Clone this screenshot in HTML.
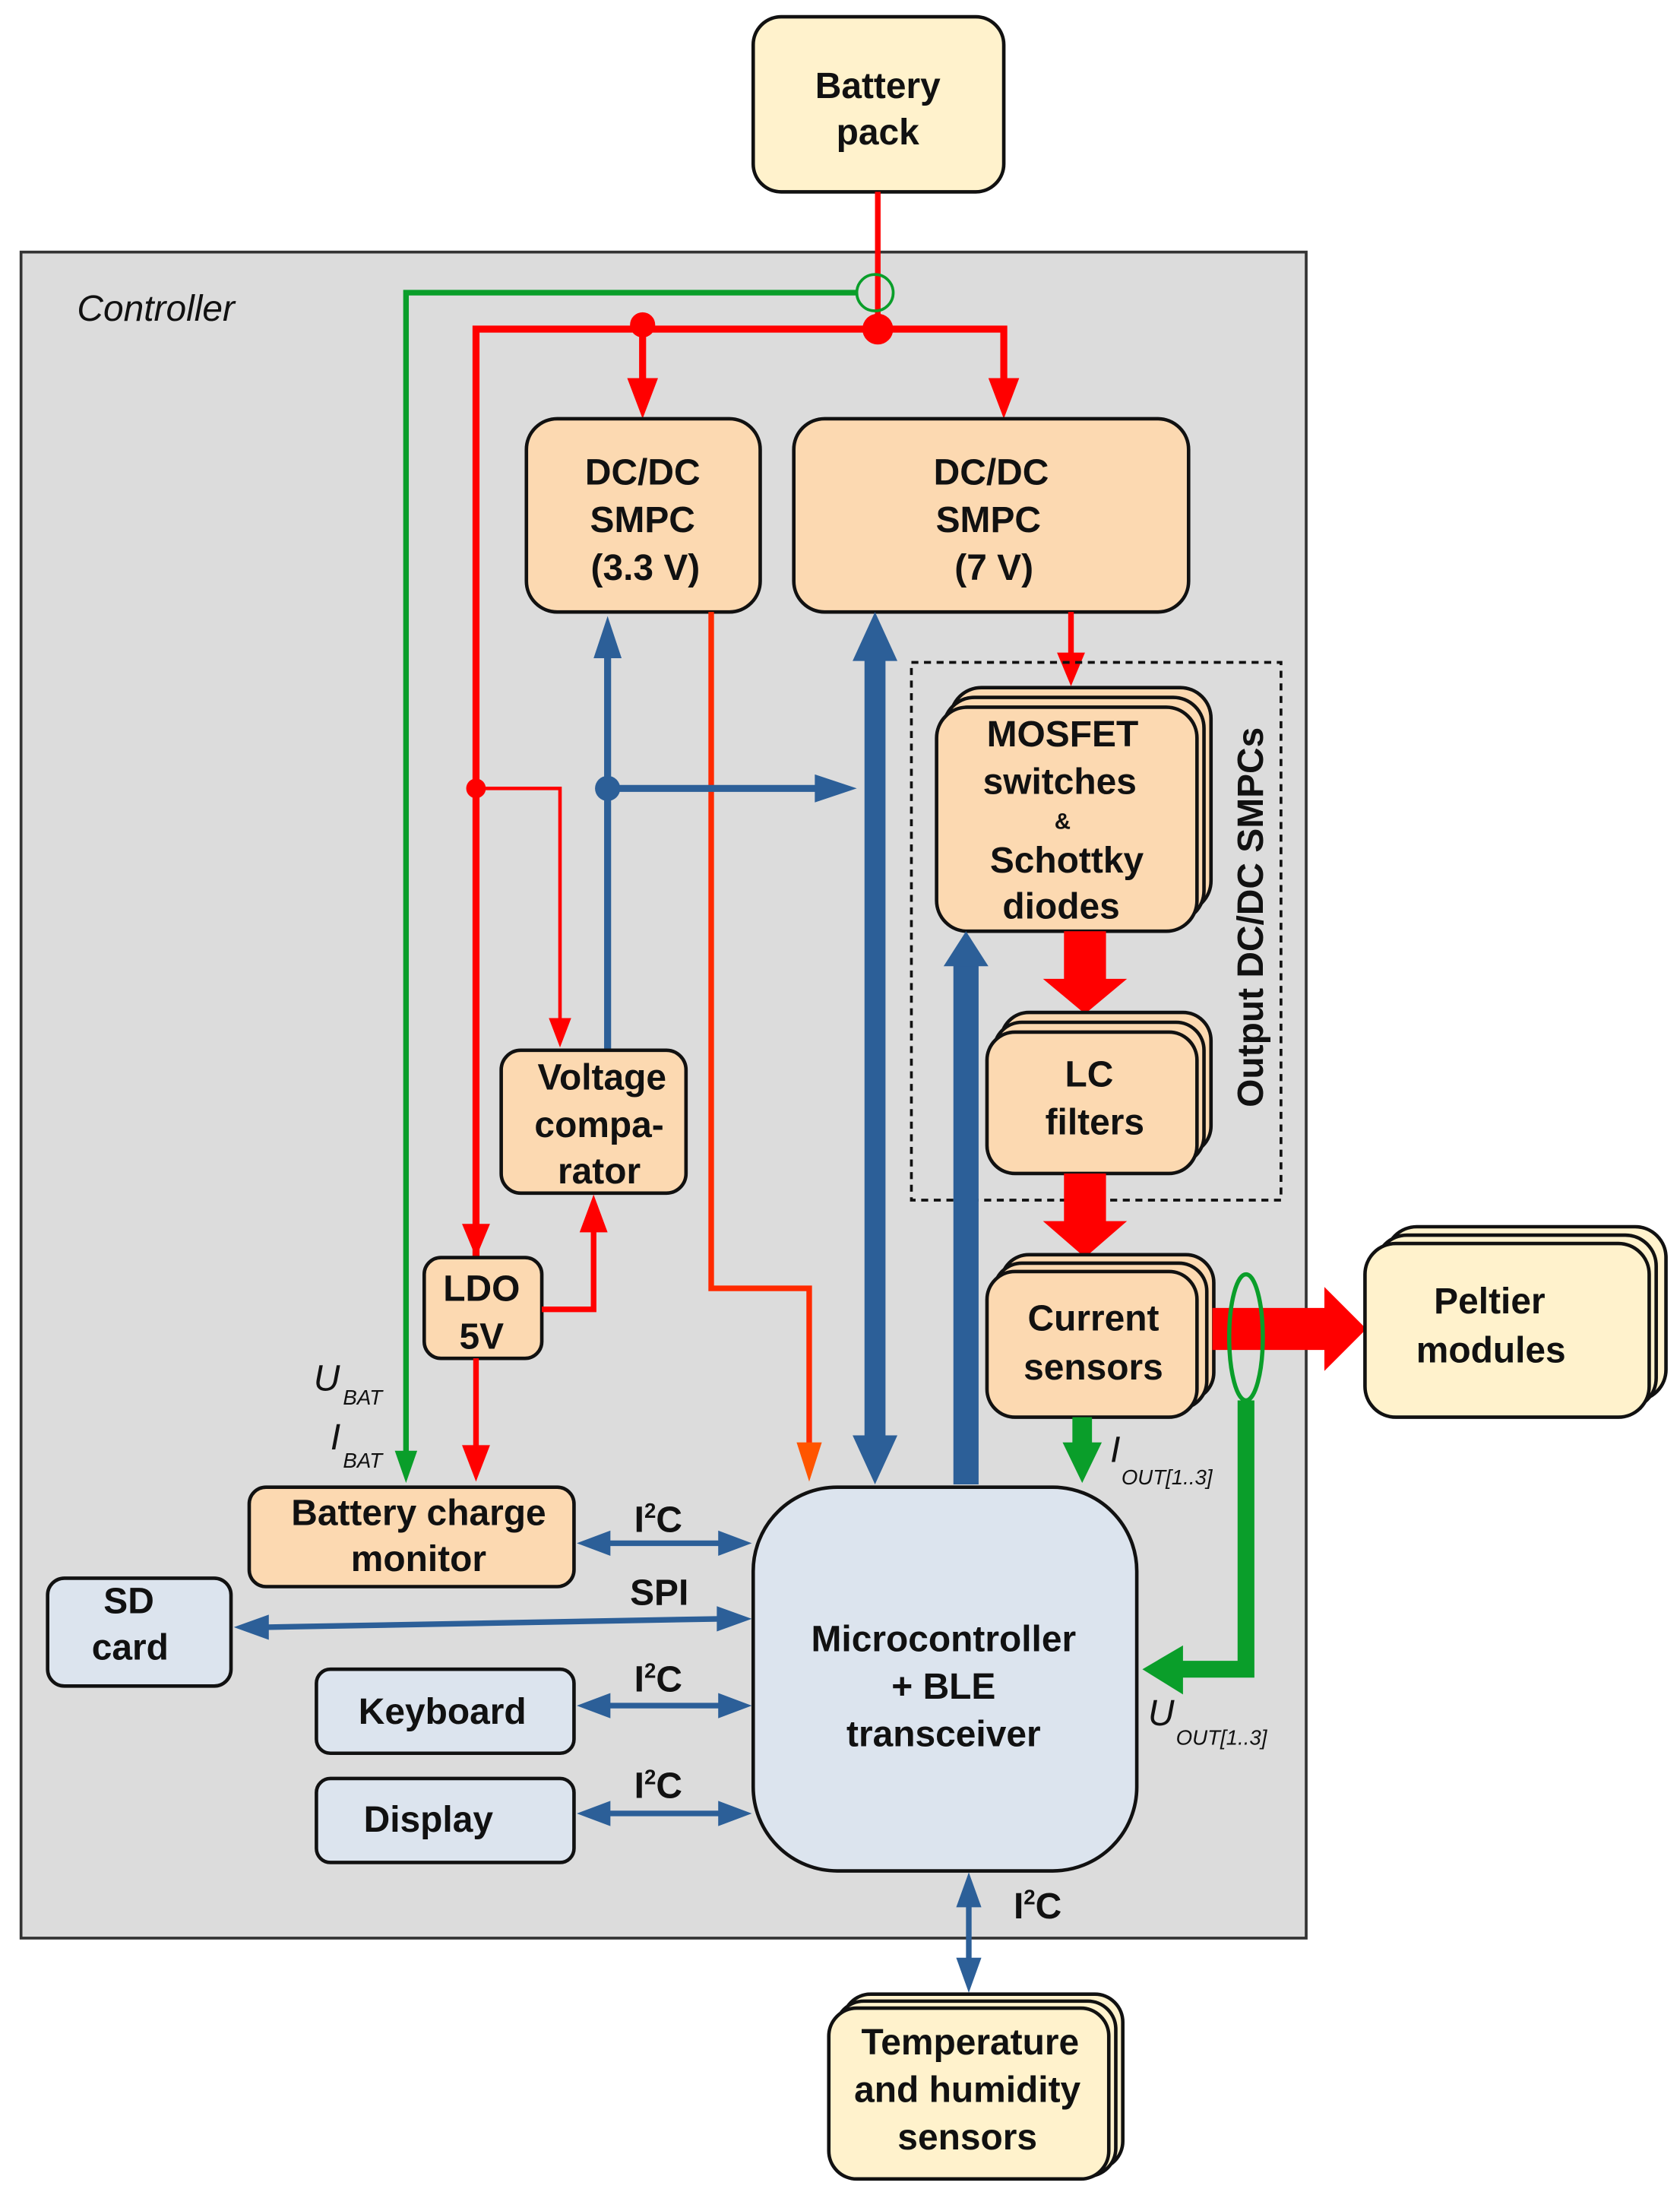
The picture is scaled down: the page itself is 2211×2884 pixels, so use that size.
<!DOCTYPE html>
<html><head><meta charset="utf-8"><style>html,body{margin:0;padding:0;background:#fff}svg{display:block}text{font-family:"Liberation Sans",sans-serif;font-weight:bold;fill:#111}text.n{font-weight:normal}</style></head>
<body>
<svg width="2211" height="2884" viewBox="0 0 1200 1565.3" xmlns="http://www.w3.org/2000/svg">
<!-- battery -->
<rect x="538" y="12" width="179" height="125" rx="20" fill="#fff2cc" stroke="#111" stroke-width="2.5"/>
<text x="627" y="70" font-size="26" text-anchor="middle">Battery</text>
<text x="627" y="103" font-size="26" text-anchor="middle">pack</text>
<!-- controller -->
<rect x="15" y="180" width="918" height="1204" fill="#dcdcdc" stroke="#333" stroke-width="2"/>
<text class="n" x="55" y="229" font-size="26" font-style="italic">Controller</text>
<!-- red power lines -->
<line x1="627" y1="137" x2="627" y2="235" stroke="#f00" stroke-width="4"/>
<polyline points="340,900 340,235 717,235 717,275" fill="none" stroke="#f00" stroke-width="5"/>
<line x1="459" y1="232" x2="459" y2="275" stroke="#f00" stroke-width="5"/>
<path d="M448,270L470,270L459,299z M706,270L728,270L717,299z" fill="#f00"/>
<circle cx="627" cy="235" r="11" fill="#f00"/>
<circle cx="459" cy="232" r="9" fill="#f00"/>
<!-- green -->
<polyline points="613,209 290,209 290,1040" fill="none" stroke="#0a9e2a" stroke-width="4"/>
<path d="M282,1036L298,1036L290,1059z" fill="#0a9e2a"/>
<circle cx="625" cy="209" r="13" fill="none" stroke="#0a9e2a" stroke-width="2"/>
<!-- left red to LDO -->
<path d="M330,874L350,874L340,898z" fill="#f00"/>
<circle cx="340" cy="563" r="7" fill="#f00"/>
<polyline points="340,563 400,563 400,730" fill="none" stroke="#f00" stroke-width="2.5"/>
<path d="M392,727L408,727L400,748z" fill="#f00"/>
<!-- DC/DC boxes -->
<rect x="376" y="299" width="167" height="138" rx="22" fill="#fcd9b1" stroke="#111" stroke-width="2.5"/>
<text x="459" y="346" font-size="26" text-anchor="middle">DC/DC</text>
<text x="459" y="380" font-size="26" text-anchor="middle">SMPC</text>
<text x="461" y="414" font-size="26" text-anchor="middle">(3.3 V)</text>
<rect x="567" y="299" width="282" height="138" rx="22" fill="#fcd9b1" stroke="#111" stroke-width="2.5"/>
<text x="708" y="346" font-size="26" text-anchor="middle">DC/DC</text>
<text x="706" y="380" font-size="26" text-anchor="middle">SMPC</text>
<text x="710" y="414" font-size="26" text-anchor="middle">(7 V)</text>
<!-- red from 3.3 to MCU -->
<polyline points="508,437 508,920 578,920 578,1035" fill="none" stroke="#ff2a00" stroke-width="4"/>
<path d="M569,1030L587,1030L578,1058z" fill="#ff5500"/>
<!-- blue thick bidirectional -->
<line x1="625" y1="470" x2="625" y2="1030" stroke="#2c5f98" stroke-width="15"/>
<path d="M609,472L641,472L625,437z M609,1025L641,1025L625,1060z" fill="#2c5f98"/>
<!-- blue thin -->
<line x1="434" y1="750" x2="434" y2="465" stroke="#2c5f98" stroke-width="5"/>
<path d="M424,470L444,470L434,440z" fill="#2c5f98"/>
<line x1="434" y1="563" x2="585" y2="563" stroke="#2c5f98" stroke-width="5"/>
<path d="M582,553L582,573L612,563z" fill="#2c5f98"/>
<circle cx="434" cy="563" r="9" fill="#2c5f98"/>
<!-- red from 7V -->
<line x1="765" y1="437" x2="765" y2="470" stroke="#f00" stroke-width="4"/>
<path d="M755,466L775,466L765,490z" fill="#f00"/>
<!-- dashed box -->
<rect x="651" y="473" width="264" height="384" fill="none" stroke="#111" stroke-width="2" stroke-dasharray="5,4"/>
<text transform="translate(902,655) rotate(-90)" font-size="26" text-anchor="middle">Output DC/DC SMPCs</text>
<!-- MOSFET stack -->
<rect x="679" y="491" width="186" height="160" rx="22" fill="#fcd9b1" stroke="#111" stroke-width="2.5"/>
<rect x="674" y="498" width="186" height="160" rx="22" fill="#fcd9b1" stroke="#111" stroke-width="2.5"/>
<rect x="669" y="505" width="186" height="160" rx="22" fill="#fcd9b1" stroke="#111" stroke-width="2.5"/>
<text x="759" y="533" font-size="26" text-anchor="middle">MOSFET</text>
<text x="757" y="567" font-size="26" text-anchor="middle">switches</text>
<text x="759" y="592" font-size="16" text-anchor="middle">&amp;</text>
<text x="762" y="623" font-size="26" text-anchor="middle">Schottky</text>
<text x="758" y="656" font-size="26" text-anchor="middle">diodes</text>
<!-- thick red arrows -->
<rect x="760" y="665" width="30" height="36" fill="#f00"/>
<path d="M745,699L805,699L775,724z" fill="#f00"/>
<!-- LC stack -->
<rect x="715" y="723" width="150" height="101" rx="20" fill="#fcd9b1" stroke="#111" stroke-width="2.5"/>
<rect x="710" y="730" width="150" height="101" rx="20" fill="#fcd9b1" stroke="#111" stroke-width="2.5"/>
<rect x="705" y="737" width="150" height="101" rx="20" fill="#fcd9b1" stroke="#111" stroke-width="2.5"/>
<text x="778" y="776" font-size="26" text-anchor="middle">LC</text>
<text x="782" y="810" font-size="26" text-anchor="middle">filters</text>
<rect x="760" y="838" width="30" height="36" fill="#f00"/>
<path d="M745,872L805,872L775,898z" fill="#f00"/>
<!-- Current sensors -->
<rect x="715" y="896" width="152" height="104" rx="20" fill="#fcd9b1" stroke="#111" stroke-width="2.5"/>
<rect x="710" y="902" width="152" height="104" rx="20" fill="#fcd9b1" stroke="#111" stroke-width="2.5"/>
<rect x="705" y="908" width="150" height="104" rx="20" fill="#fcd9b1" stroke="#111" stroke-width="2.5"/>
<text x="781" y="950" font-size="26" text-anchor="middle">Current</text>
<text x="781" y="985" font-size="26" text-anchor="middle">sensors</text>
<!-- blue thick up to MOSFET -->
<line x1="690" y1="1060" x2="690" y2="685" stroke="#2c5f98" stroke-width="18"/>
<path d="M674,690L706,690L690,665z" fill="#2c5f98"/>
<!-- red to peltier -->
<rect x="866" y="934" width="82" height="30" fill="#f00"/>
<path d="M946,919L946,979L976,949z" fill="#f00"/>
<!-- green loop -->
<polyline points="890,1000 890,1192 840,1192" fill="none" stroke="#0a9e2a" stroke-width="12"/>
<path d="M845,1175L845,1210L816,1192z" fill="#0a9e2a"/>
<ellipse cx="890" cy="955" rx="12" ry="45" fill="none" stroke="#0a9e2a" stroke-width="3"/>
<rect x="766" y="1012" width="14" height="20" fill="#0a9e2a"/>
<path d="M759,1030L787,1030L773,1059z" fill="#0a9e2a"/>
<text class="n" x="793" y="1044" font-size="26" font-style="italic">I</text>
<text class="n" x="801" y="1060" font-size="15" font-style="italic">OUT[1..3]</text>
<text class="n" x="820" y="1232" font-size="26" font-style="italic">U</text>
<text class="n" x="840" y="1246" font-size="15" font-style="italic">OUT[1..3]</text>
<!-- Peltier -->
<rect x="990" y="876" width="200" height="124" rx="22" fill="#fff2cc" stroke="#111" stroke-width="2.5"/>
<rect x="983" y="882" width="200" height="124" rx="22" fill="#fff2cc" stroke="#111" stroke-width="2.5"/>
<rect x="975" y="888" width="203" height="124" rx="22" fill="#fff2cc" stroke="#111" stroke-width="2.5"/>
<text x="1064" y="938" font-size="26" text-anchor="middle">Peltier</text>
<text x="1065" y="973" font-size="26" text-anchor="middle">modules</text>
<!-- Voltage comparator -->
<rect x="358" y="750" width="132" height="102" rx="14" fill="#fcd9b1" stroke="#111" stroke-width="2.5"/>
<text x="430" y="778" font-size="26" text-anchor="middle">Voltage</text>
<text x="428" y="812" font-size="26" text-anchor="middle">compa-</text>
<text x="428" y="845" font-size="26" text-anchor="middle">rator</text>
<!-- LDO -->
<rect x="303" y="898" width="84" height="72" rx="12" fill="#fcd9b1" stroke="#111" stroke-width="2.5"/>
<text x="344" y="929" font-size="26" text-anchor="middle">LDO</text>
<text x="344" y="963" font-size="26" text-anchor="middle">5V</text>
<polyline points="387,935 424,935 424,875" fill="none" stroke="#f00" stroke-width="4"/>
<path d="M414,880L434,880L424,853z" fill="#f00"/>
<line x1="340" y1="970" x2="340" y2="1035" stroke="#f00" stroke-width="4"/>
<path d="M330,1032L350,1032L340,1058z" fill="#f00"/>
<text class="n" x="224" y="993" font-size="26" font-style="italic">U</text>
<text class="n" x="245" y="1003" font-size="15" font-style="italic">BAT</text>
<text class="n" x="236" y="1035" font-size="26" font-style="italic">I</text>
<text class="n" x="245" y="1048" font-size="15" font-style="italic">BAT</text>
<!-- Battery charge monitor -->
<rect x="178" y="1062" width="232" height="71" rx="12" fill="#fcd9b1" stroke="#111" stroke-width="2.5"/>
<text x="299" y="1089" font-size="26" text-anchor="middle">Battery charge</text>
<text x="299" y="1122" font-size="26" text-anchor="middle">monitor</text>
<!-- MCU -->
<rect x="538" y="1062" width="274" height="274" rx="60" fill="#dce4ee" stroke="#111" stroke-width="2.5"/>
<text x="674" y="1179" font-size="26" text-anchor="middle">Microcontroller</text>
<text x="674" y="1213" font-size="26" text-anchor="middle">+ BLE</text>
<text x="674" y="1247" font-size="26" text-anchor="middle">transceiver</text>
<!-- SD -->
<rect x="34" y="1127" width="131" height="77" rx="12" fill="#dce4ee" stroke="#111" stroke-width="2.5"/>
<text x="92" y="1152" font-size="26" text-anchor="middle">SD</text>
<text x="93" y="1185" font-size="26" text-anchor="middle">card</text>
<rect x="226" y="1192" width="184" height="60" rx="10" fill="#dce4ee" stroke="#111" stroke-width="2.5"/>
<text x="316" y="1231" font-size="26" text-anchor="middle">Keyboard</text>
<rect x="226" y="1270" width="184" height="60" rx="10" fill="#dce4ee" stroke="#111" stroke-width="2.5"/>
<text x="306" y="1308" font-size="26" text-anchor="middle">Display</text>
<!-- bus arrows -->
<g stroke="#2c5f98" stroke-width="4">
<line x1="430" y1="1102" x2="515" y2="1102"/>
<line x1="190" y1="1162" x2="515" y2="1156"/>
<line x1="430" y1="1218" x2="515" y2="1218"/>
<line x1="430" y1="1295" x2="515" y2="1295"/>
<line x1="692" y1="1358" x2="692" y2="1400"/>
</g>
<g fill="#2c5f98">
<path d="M412,1102L436,1093L436,1111z M537,1102L513,1093L513,1111z"/>
<path d="M167,1162L192,1153L192,1171z M537,1156L512,1147L512,1165z"/>
<path d="M412,1218L436,1209L436,1227z M537,1218L513,1209L513,1227z"/>
<path d="M412,1295L436,1286L436,1304z M537,1295L513,1286L513,1304z"/>
<path d="M692,1337L683,1362L701,1362z M692,1423L683,1398L701,1398z"/>
</g>
<text x="453" y="1094" font-size="26">I<tspan font-size="15" dy="-10">2</tspan><tspan dy="10">C</tspan></text>
<text x="450" y="1146" font-size="26">SPI</text>
<text x="453" y="1208" font-size="26">I<tspan font-size="15" dy="-10">2</tspan><tspan dy="10">C</tspan></text>
<text x="453" y="1284" font-size="26">I<tspan font-size="15" dy="-10">2</tspan><tspan dy="10">C</tspan></text>
<text x="724" y="1370" font-size="26">I<tspan font-size="15" dy="-10">2</tspan><tspan dy="10">C</tspan></text>
<!-- Temperature -->
<rect x="602" y="1424" width="200" height="125" rx="20" fill="#fff2cc" stroke="#111" stroke-width="2.5"/>
<rect x="597" y="1429" width="200" height="125" rx="20" fill="#fff2cc" stroke="#111" stroke-width="2.5"/>
<rect x="592" y="1434" width="200" height="122" rx="20" fill="#fff2cc" stroke="#111" stroke-width="2.5"/>
<text x="693" y="1467" font-size="26" text-anchor="middle">Temperature</text>
<text x="691" y="1501" font-size="26" text-anchor="middle">and humidity</text>
<text x="691" y="1535" font-size="26" text-anchor="middle">sensors</text>
</svg>
</body></html>
